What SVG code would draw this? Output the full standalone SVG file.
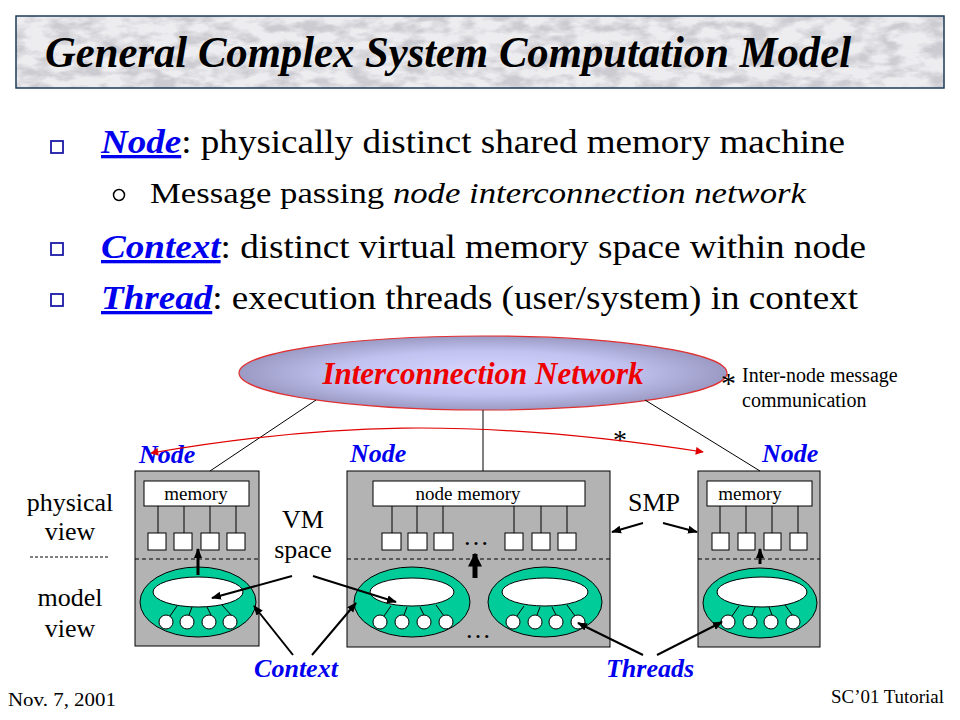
<svg xmlns="http://www.w3.org/2000/svg" width="960" height="720" viewBox="0 0 960 720">
<defs>
  <filter id="marble" x="0" y="0" width="100%" height="100%">
    <feTurbulence type="fractalNoise" baseFrequency="0.04 0.09" numOctaves="4" seed="7" result="n"/>
    <feColorMatrix in="n" type="matrix" values="0 0 0 0 0.6  0 0 0 0 0.6  0 0 0 0 0.64  0 0 0 3.2 -1.3" result="c"/>
    <feComposite in="c" in2="SourceGraphic" operator="in"/>
  </filter>
  <radialGradient id="netGrad" cx="50%" cy="50%" r="50%">
    <stop offset="0" stop-color="#d6d6ff"/>
    <stop offset="0.6" stop-color="#c2c2f0"/>
    <stop offset="1" stop-color="#9a9ac4"/>
  </radialGradient>
  <marker id="ahs" viewBox="0 0 10 10" refX="9" refY="5" markerWidth="10" markerHeight="10" orient="auto" markerUnits="userSpaceOnUse">
    <path d="M0,1 L10,5 L0,9 z" fill="#000"/>
  </marker>
  <marker id="ahb" viewBox="0 0 10 10" refX="9" refY="5" markerWidth="14" markerHeight="14" orient="auto" markerUnits="userSpaceOnUse">
    <path d="M0,0 L10,5 L0,10 z" fill="#000"/>
  </marker>
  <marker id="ahr" viewBox="0 0 10 10" refX="9" refY="5" markerWidth="10" markerHeight="8" orient="auto-start-reverse" markerUnits="userSpaceOnUse">
    <path d="M0,0 L10,5 L0,10 z" fill="#e00000"/>
  </marker>
</defs>
<style>
  .serif { font-family: "Liberation Serif", "Times New Roman", serif; }
  .box { fill: #b3b3b3; stroke: #000; stroke-width: 1; }
  .mem { fill: #fff; stroke: #000; stroke-width: 1; }
  .cpu { fill: #fff; stroke: #000; stroke-width: 1; }
  .bus { stroke: #000; stroke-width: 1; fill: none; }
  .dash { stroke: #000; stroke-width: 1; stroke-dasharray: 4 3; fill: none; }
  .ctx { fill: #00cc99; stroke: #000; stroke-width: 1; }
  .vm { fill: #fff; stroke: #000; stroke-width: 1; }
  .thr { fill: #fff; stroke: #000; stroke-width: 1; }
  .lbl { font-family: "Liberation Serif", "Times New Roman", serif; font-size: 19px; fill: #000; }
  .sm { font-family: "Liberation Serif", "Times New Roman", serif; font-size: 20px; fill: #000; }
  .big { font-family: "Liberation Serif", "Times New Roman", serif; font-size: 26px; fill: #000; }
  .blue { font-family: "Liberation Serif", "Times New Roman", serif; font-size: 26px; font-weight: bold; font-style: italic; fill: #0000ee; }
  .kw { font-weight: bold; font-style: italic; fill: #0000ee; text-decoration: underline; }
  .conn { stroke: #000; stroke-width: 2; fill: none; }
  .thin { stroke: #000; stroke-width: 1; fill: none; }
</style>
<rect width="960" height="720" fill="#fff"/>

<!-- Title -->
<g id="title">
  <rect x="16" y="16" width="928" height="72" fill="#ededf0"/>
  <rect x="16" y="16" width="928" height="72" fill="#fff" filter="url(#marble)"/>
  <rect x="16" y="16" width="928" height="72" fill="none" stroke="#1f3a5a" stroke-width="1.5"/>
  <text x="45" y="67" class="serif" font-size="44" font-weight="bold" font-style="italic" textLength="806" lengthAdjust="spacingAndGlyphs">General Complex System Computation Model</text>
</g>

<!-- Bullets -->
<g id="bullets" class="serif">
  <rect x="51" y="141" width="12" height="12" fill="none" stroke="#1a1aa8" stroke-width="1.8"/>
  <text x="101" y="153" font-size="33" textLength="744" lengthAdjust="spacingAndGlyphs"><tspan class="kw">Node</tspan>: physically distinct shared memory machine</text>
  <circle cx="119" cy="195" r="5.5" fill="none" stroke="#000" stroke-width="1.5"/>
  <text x="150" y="203" font-size="29" textLength="656" lengthAdjust="spacingAndGlyphs">Message passing <tspan font-style="italic">node interconnection network</tspan></text>
  <rect x="51" y="243" width="12" height="12" fill="none" stroke="#1a1aa8" stroke-width="1.8"/>
  <text x="101" y="258" font-size="33" textLength="765" lengthAdjust="spacingAndGlyphs"><tspan class="kw">Context</tspan>: distinct virtual memory space within node</text>
  <rect x="51" y="294" width="12" height="12" fill="none" stroke="#1a1aa8" stroke-width="1.8"/>
  <text x="101" y="309" font-size="33" textLength="757" lengthAdjust="spacingAndGlyphs"><tspan class="kw">Thread</tspan>: execution threads (user/system) in context</text>
</g>

<!-- Interconnection network -->
<g id="network">
  <ellipse cx="483" cy="373" rx="244" ry="37" fill="url(#netGrad)" stroke="#e03030" stroke-width="1.2"/>
  <text x="483" y="384" text-anchor="middle" class="serif" font-size="31" font-weight="bold" font-style="italic" fill="#ee0000">Interconnection Network</text>
</g>

<g id="legend">
  <text x="721" y="393" class="serif" font-size="30">*</text>
  <text x="742" y="382" class="sm">Inter-node message</text>
  <text x="742" y="407" class="sm">communication</text>
</g>

<!-- Left node -->
<g id="node-left">
  <text x="139" y="463" class="blue">Node</text>
  <rect x="135" y="471" width="124" height="175" class="box"/>
  <line x1="135" y1="559" x2="259" y2="559" class="dash"/>
  <rect x="144" y="481" width="105" height="25" class="mem"/>
  <text x="196" y="500" text-anchor="middle" class="lbl">memory</text>
  <path d="M158,506V533M184,506V533M210,506V533M236,506V533" class="bus"/>
  <rect x="148" y="533" width="18" height="17" class="cpu"/>
  <rect x="174" y="533" width="18" height="17" class="cpu"/>
  <rect x="201" y="533" width="18" height="17" class="cpu"/>
  <rect x="227" y="533" width="18" height="17" class="cpu"/>
  <ellipse cx="198" cy="602" rx="58" ry="35" class="ctx"/>
  <ellipse cx="198" cy="592" rx="45" ry="15" class="vm"/>
  <path d="M170,616L177,606M189,615L192,607M211,615L207,607M232,616L222,605" class="bus"/>
  <circle cx="166" cy="622" r="7" class="thr"/>
  <circle cx="187" cy="622" r="7" class="thr"/>
  <circle cx="209" cy="622" r="7" class="thr"/>
  <circle cx="230" cy="622" r="7" class="thr"/>
</g>

<!-- Middle node -->
<g id="node-middle">
  <text x="350" y="462" class="blue">Node</text>
  <rect x="347" y="471" width="263" height="176" class="box"/>
  <line x1="347" y1="559" x2="610" y2="559" class="dash"/>
  <rect x="373" y="481" width="212" height="25" class="mem"/>
  <text x="468" y="500" text-anchor="middle" class="lbl">node memory</text>
  <path d="M392,506V533M417,506V533M443,506V533M514,506V533M541,506V533M567,506V533" class="bus"/>
  <rect x="382" y="533" width="19" height="17" class="cpu"/>
  <rect x="408" y="533" width="19" height="17" class="cpu"/>
  <rect x="434" y="533" width="19" height="17" class="cpu"/>
  <rect x="505" y="533" width="18" height="17" class="cpu"/>
  <rect x="532" y="533" width="18" height="17" class="cpu"/>
  <rect x="558" y="533" width="18" height="17" class="cpu"/>
  <text x="476" y="545" text-anchor="middle" class="big">…</text>
  <ellipse cx="412" cy="602" rx="58" ry="35" class="ctx"/>
  <ellipse cx="412" cy="592" rx="42" ry="14" class="vm"/>
  <path d="M384,616L391,606M404,615L407,607M424,615L420,607M444,616L436,605" class="bus"/>
  <circle cx="380" cy="622" r="7" class="thr"/>
  <circle cx="402" cy="622" r="7" class="thr"/>
  <circle cx="424" cy="622" r="7" class="thr"/>
  <circle cx="446" cy="622" r="7" class="thr"/>
  <ellipse cx="545" cy="602" rx="57" ry="35" class="ctx"/>
  <ellipse cx="545" cy="592" rx="43" ry="14" class="vm"/>
  <path d="M517,616L524,606M537,615L540,607M556,615L552,607M575,616L567,605" class="bus"/>
  <circle cx="513" cy="622" r="7" class="thr"/>
  <circle cx="535" cy="622" r="7" class="thr"/>
  <circle cx="556" cy="622" r="7" class="thr"/>
  <circle cx="578" cy="622" r="7" class="thr"/>
  <text x="478" y="638" text-anchor="middle" class="big">…</text>
</g>

<!-- Right node -->
<g id="node-right">
  <text x="762" y="462" class="blue">Node</text>
  <rect x="698" y="471" width="122" height="176" class="box"/>
  <line x1="698" y1="559" x2="820" y2="559" class="dash"/>
  <rect x="707" y="481" width="105" height="25" class="mem"/>
  <text x="750" y="500" text-anchor="middle" class="lbl">memory</text>
  <path d="M720,506V533M746,506V533M772,506V533M798,506V533" class="bus"/>
  <rect x="712" y="533" width="17" height="17" class="cpu"/>
  <rect x="738" y="533" width="17" height="17" class="cpu"/>
  <rect x="764" y="533" width="17" height="17" class="cpu"/>
  <rect x="790" y="533" width="17" height="17" class="cpu"/>
  <ellipse cx="760" cy="603" rx="57" ry="35" class="ctx"/>
  <ellipse cx="762" cy="592" rx="45" ry="15" class="vm"/>
  <path d="M732,616L739,606M752,615L755,607M772,615L769,607M793,616L785,605" class="bus"/>
  <circle cx="728" cy="622" r="7" class="thr"/>
  <circle cx="750" cy="622" r="7" class="thr"/>
  <circle cx="771" cy="622" r="7" class="thr"/>
  <circle cx="793" cy="622" r="7" class="thr"/>
</g>

<!-- Side labels -->
<g id="side-labels">
  <text x="70" y="511" text-anchor="middle" class="big">physical</text>
  <text x="70" y="540" text-anchor="middle" class="big">view</text>
  <line x1="30" y1="557" x2="108" y2="557" stroke="#000" stroke-width="1" stroke-dasharray="3 2"/>
  <text x="70" y="606" text-anchor="middle" class="big">model</text>
  <text x="70" y="637" text-anchor="middle" class="big">view</text>
  <text x="303" y="528" text-anchor="middle" class="big">VM</text>
  <text x="303" y="558" text-anchor="middle" class="big">space</text>
  <text x="654" y="511" text-anchor="middle" class="big">SMP</text>
  <text x="296" y="677" text-anchor="middle" class="blue">Context</text>
  <text x="650" y="677" text-anchor="middle" class="blue">Threads</text>
  <text x="620" y="449" text-anchor="middle" class="serif" font-size="28">*</text>
</g>

<!-- Connectors -->
<g id="connectors">
  <line x1="316" y1="400" x2="210" y2="471" class="thin"/>
  <line x1="483" y1="410" x2="483" y2="471" class="thin"/>
  <line x1="645" y1="400" x2="760" y2="471" class="thin"/>
  <path d="M151,453 C320,424 470,416 703,452" stroke="#e00000" stroke-width="1.2" fill="none" marker-start="url(#ahr)" marker-end="url(#ahr)"/>
  <line x1="198" y1="575" x2="198" y2="549" stroke="#000" stroke-width="3" marker-end="url(#ahs)"/>
  <line x1="475" y1="578" x2="475" y2="554" stroke="#000" stroke-width="5" marker-end="url(#ahb)"/>
  <line x1="760" y1="564" x2="760" y2="549" stroke="#000" stroke-width="3" marker-end="url(#ahs)"/>
  <line x1="292" y1="576" x2="212" y2="598" class="conn" marker-end="url(#ahs)"/>
  <line x1="313" y1="576" x2="396" y2="602" class="conn" marker-end="url(#ahs)"/>
  <line x1="293" y1="655" x2="254" y2="606" class="conn" marker-end="url(#ahs)"/>
  <line x1="312" y1="655" x2="356" y2="603" class="conn" marker-end="url(#ahs)"/>
  <line x1="643" y1="523" x2="612" y2="532" class="conn" marker-end="url(#ahs)"/>
  <line x1="663" y1="523" x2="697" y2="532" class="conn" marker-end="url(#ahs)"/>
  <line x1="643" y1="655" x2="578" y2="623" class="conn" marker-end="url(#ahs)"/>
  <line x1="657" y1="655" x2="722" y2="622" class="conn" marker-end="url(#ahs)"/>
</g>

<!-- Footer -->
<g id="footer">
  <text x="8" y="706" class="serif" font-size="18" textLength="108" lengthAdjust="spacingAndGlyphs">Nov. 7, 2001</text>
  <text x="831" y="703" class="serif" font-size="18" textLength="113" lengthAdjust="spacingAndGlyphs">SC’01 Tutorial</text>
</g>
</svg>
